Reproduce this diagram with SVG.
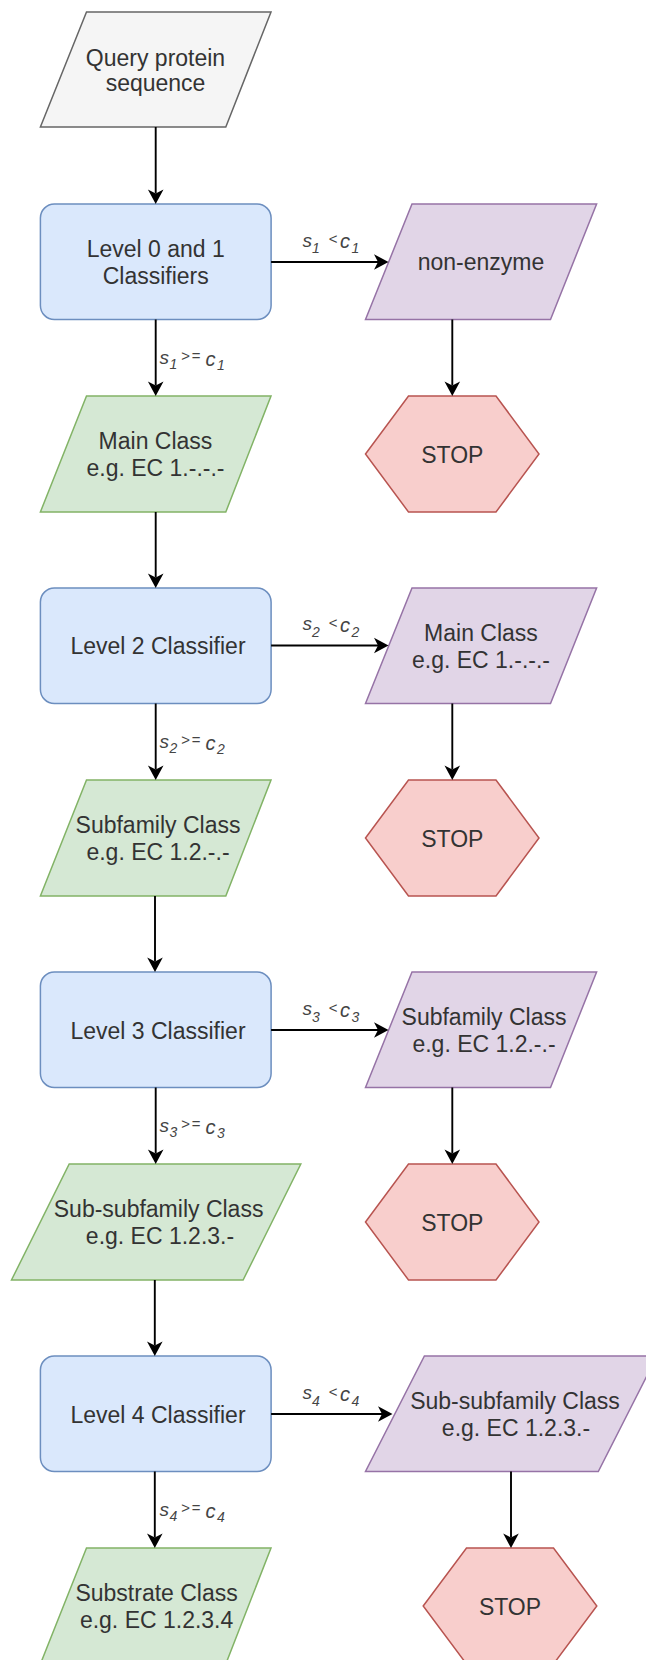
<svg xmlns="http://www.w3.org/2000/svg" width="646" height="1660" viewBox="0 0 646 1660">
<style>
.t{font-family:"Liberation Sans",Arial,sans-serif;font-size:23px;fill:#333;text-anchor:middle}
.lb{font-family:"Liberation Sans",Arial,sans-serif;font-style:italic;font-size:19px;fill:#444}
.sb{font-size:14px}
.op{font-size:15px}
.cc{font-size:20px}
.gray{fill:#f5f5f5;stroke:#666;stroke-width:1.5}
.blue{fill:#dae8fc;stroke:#6c8ebf;stroke-width:1.5}
.green{fill:#d5e8d4;stroke:#82b366;stroke-width:1.5}
.purple{fill:#e1d5e7;stroke:#9673a6;stroke-width:1.5}
.red{fill:#f8cecc;stroke:#b85450;stroke-width:1.5}
.e{fill:none;stroke:#000;stroke-width:1.9;marker-end:url(#ah)}
</style>
<defs>
<marker id="ah" markerUnits="userSpaceOnUse" markerWidth="16" markerHeight="18" viewBox="0 -9 16 18" refX="5" refY="0" orient="auto">
<path d="M15.5,0 L1,-7.8 L5,0 L1,7.8 Z" fill="#000"/>
</marker>
</defs>

<g id="query">
<polygon class="gray" points="86.5,12 271,12 225.8,127 40.4,127"/>
<text class="t" x="155.5" y="65.5">Query protein</text>
<text class="t" x="155.5" y="91">sequence</text>
</g>

<g id="level01">
<rect class="blue" x="40.4" y="204" width="230.7" height="115.5" rx="14"/>
<text class="t" x="155.7" y="256.5">Level 0 and 1</text>
<text class="t" x="155.7" y="283.5">Classifiers</text>
</g>
<g id="nonenzyme">
<polygon class="purple" points="412,204 596.6,204 550.5,319.5 365.5,319.5"/>
<text class="t" x="481" y="270">non-enzyme</text>
</g>
<g id="main-green">
<polygon class="green" points="86.5,396 271,396 225.8,512 40.4,512"/>
<text class="t" x="155.5" y="449">Main Class</text>
<text class="t" x="155.5" y="476">e.g. EC 1.-.-.-</text>
</g>
<g id="stop1">
<polygon class="red" points="365.5,454 408.5,396 496,396 539,454 496,512 408.5,512"/>
<text class="t" x="452.3" y="462.5">STOP</text>
</g>

<g id="level2">
<rect class="blue" x="40.4" y="588" width="230.7" height="115.5" rx="14"/>
<text class="t" x="158" y="654">Level 2 Classifier</text>
</g>
<g id="main-purple">
<polygon class="purple" points="412,588 596.6,588 550.5,703.5 365.5,703.5"/>
<text class="t" x="481" y="640.5">Main Class</text>
<text class="t" x="481" y="667.5">e.g. EC 1.-.-.-</text>
</g>
<g id="subfamily-green">
<polygon class="green" points="86.5,780 271,780 225.8,896 40.4,896"/>
<text class="t" x="158" y="833">Subfamily Class</text>
<text class="t" x="158" y="860">e.g. EC 1.2.-.-</text>
</g>
<g id="stop2">
<polygon class="red" points="365.5,838 408.5,780 496,780 539,838 496,896 408.5,896"/>
<text class="t" x="452.3" y="846.5">STOP</text>
</g>

<g id="level3">
<rect class="blue" x="40.4" y="972" width="230.7" height="115.5" rx="14"/>
<text class="t" x="158" y="1038.5">Level 3 Classifier</text>
</g>
<g id="subfamily-purple">
<polygon class="purple" points="412,972 596.6,972 550.5,1087.5 365.5,1087.5"/>
<text class="t" x="484" y="1025">Subfamily Class</text>
<text class="t" x="484" y="1052">e.g. EC 1.2.-.-</text>
</g>
<g id="subsubfamily-green">
<polygon class="green" points="69.2,1164 300.8,1164 243.1,1280 11.5,1280"/>
<text class="t" x="158.6" y="1217">Sub-subfamily Class</text>
<text class="t" x="160" y="1244">e.g. EC 1.2.3.-</text>
</g>
<g id="stop3">
<polygon class="red" points="365.5,1222 408.5,1164 496,1164 539,1222 496,1280 408.5,1280"/>
<text class="t" x="452.3" y="1230.5">STOP</text>
</g>

<g id="level4">
<rect class="blue" x="40.4" y="1356" width="230.7" height="115.5" rx="14"/>
<text class="t" x="158" y="1422.5">Level 4 Classifier</text>
</g>
<g id="subsubfamily-purple">
<polygon class="purple" points="424.4,1356 657,1356 598.3,1471.5 365.5,1471.5"/>
<text class="t" x="515" y="1409">Sub-subfamily Class</text>
<text class="t" x="516" y="1436">e.g. EC 1.2.3.-</text>
</g>
<g id="substrate-green">
<polygon class="green" points="86.5,1548 271,1548 225.8,1664 40.4,1664"/>
<text class="t" x="156.6" y="1601">Substrate Class</text>
<text class="t" x="156.6" y="1628">e.g. EC 1.2.3.4</text>
</g>
<g id="stop4">
<polygon class="red" points="423.2,1606 466.5,1548 553.5,1548 596.8,1606 553.5,1664 466.5,1664"/>
<text class="t" x="510" y="1614.5">STOP</text>
</g>

<g id="connectors">
<path class="e" d="M155.7,127 V193.5"/>
<path class="e" d="M155.7,319.5 V385.5"/>
<path class="e" d="M155.7,512 V577.5"/>
<path class="e" d="M155.7,703.5 V769.5"/>
<path class="e" d="M155,896 V961.5"/>
<path class="e" d="M155.7,1087.5 V1153.5"/>
<path class="e" d="M154.8,1280 V1345.5"/>
<path class="e" d="M154.8,1471.5 V1537.5"/>
<path class="e" d="M271.1,262 H378"/>
<path class="e" d="M452.3,319.5 V385.5"/>
<path class="e" d="M271.1,645.5 H378"/>
<path class="e" d="M452.3,703.5 V769.5"/>
<path class="e" d="M271.1,1030 H378"/>
<path class="e" d="M452.3,1087.5 V1153.5"/>
<path class="e" d="M271.1,1414 H382"/>
<path class="e" d="M511,1471.5 V1537.5"/>

<text class="lb"><tspan x="302.5" y="246.5">s</tspan><tspan class="sb" x="312" y="253">1</tspan><tspan class="op" x="328.5" y="244">&lt;</tspan><tspan class="cc" x="340" y="248">c</tspan><tspan class="sb" x="351.5" y="253">1</tspan></text>
<text class="lb"><tspan x="159.5" y="364">s</tspan><tspan class="sb" x="169.5" y="368.5">1</tspan><tspan class="op" x="181" y="361">&gt;</tspan><tspan class="op" x="191.5" y="361">=</tspan><tspan class="cc" x="205.5" y="365.5">c</tspan><tspan class="sb" x="217" y="369.5">1</tspan></text>

<text class="lb"><tspan x="302.5" y="630">s</tspan><tspan class="sb" x="312" y="636.5">2</tspan><tspan class="op" x="328.5" y="627.5">&lt;</tspan><tspan class="cc" x="340" y="631.5">c</tspan><tspan class="sb" x="351.5" y="636.5">2</tspan></text>
<text class="lb"><tspan x="159.5" y="748">s</tspan><tspan class="sb" x="169.5" y="752.5">2</tspan><tspan class="op" x="181" y="745">&gt;</tspan><tspan class="op" x="191.5" y="745">=</tspan><tspan class="cc" x="205.5" y="749.5">c</tspan><tspan class="sb" x="217" y="753.5">2</tspan></text>

<text class="lb"><tspan x="302.5" y="1015">s</tspan><tspan class="sb" x="312" y="1021.5">3</tspan><tspan class="op" x="328.5" y="1012.5">&lt;</tspan><tspan class="cc" x="340" y="1016.5">c</tspan><tspan class="sb" x="351.5" y="1021.5">3</tspan></text>
<text class="lb"><tspan x="159.5" y="1132">s</tspan><tspan class="sb" x="169.5" y="1136.5">3</tspan><tspan class="op" x="181" y="1129">&gt;</tspan><tspan class="op" x="191.5" y="1129">=</tspan><tspan class="cc" x="205.5" y="1133.5">c</tspan><tspan class="sb" x="217" y="1137.5">3</tspan></text>

<text class="lb"><tspan x="302.5" y="1399">s</tspan><tspan class="sb" x="312" y="1405.5">4</tspan><tspan class="op" x="328.5" y="1396.5">&lt;</tspan><tspan class="cc" x="340" y="1400.5">c</tspan><tspan class="sb" x="351.5" y="1405.5">4</tspan></text>
<text class="lb"><tspan x="159.5" y="1516">s</tspan><tspan class="sb" x="169.5" y="1520.5">4</tspan><tspan class="op" x="181" y="1513">&gt;</tspan><tspan class="op" x="191.5" y="1513">=</tspan><tspan class="cc" x="205.5" y="1517.5">c</tspan><tspan class="sb" x="217" y="1521.5">4</tspan></text>
</g>
</svg>
